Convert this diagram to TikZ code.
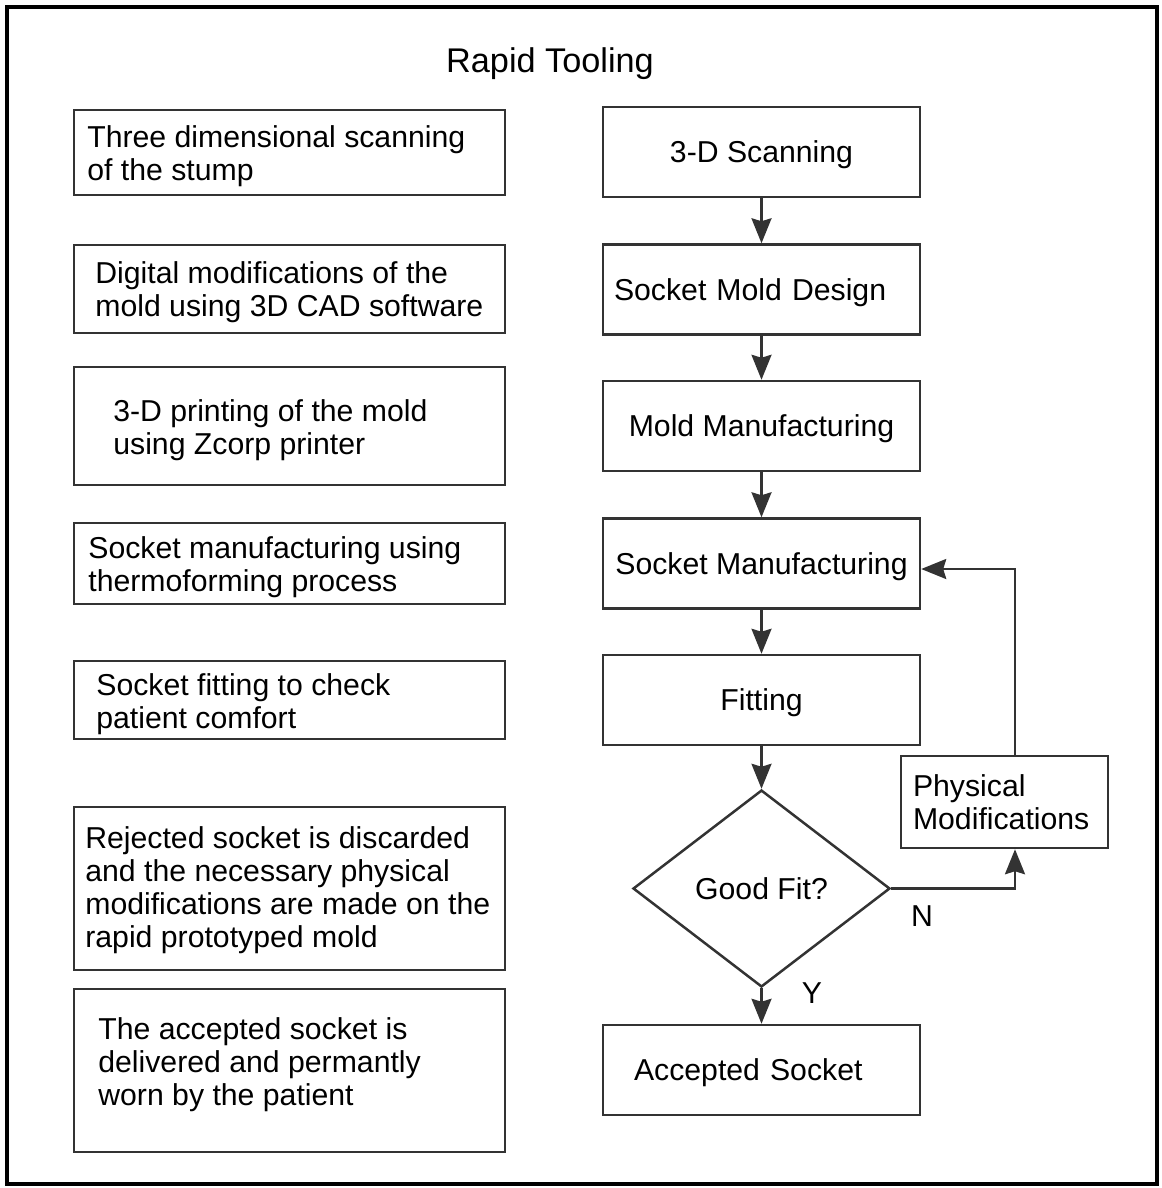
\documentclass[tikz,border=0pt]{standalone}
\usepackage{fontspec}
\setmainfont{Liberation Sans}
\usepackage{xcolor}
\usepackage{tikz}
\usetikzlibrary{arrows.meta, positioning, shapes.geometric}
\definecolor{linegray}{RGB}{51,51,51}

\begin{document}
\begin{tikzpicture}[x=0.02cm, y=-0.02cm, font=\fontsize{17.2}{18.8}\selectfont,
  stepbox/.style={draw=linegray, line width=0.05cm, minimum width=6.34cm, minimum height=1.8cm, inner sep=0pt, text depth=0pt},
  notebox/.style={draw=linegray, line width=0.05cm},
  notetext/.style={anchor=west, align=left, inner sep=0pt},
  flow/.style={draw=linegray, line width=0.05cm, -{Stealth[length=0.5cm, width=0.4cm, inset=0.06cm]}}]
  \useasboundingbox (0,0) rectangle (1162,1188);
  \draw[line width=0.08cm] (7,7) rectangle (1157,1184);
  \node[font=\fontsize{19.5}{21}\selectfont] (title) at (550,64) {Rapid Tooling};

  % left column: notes
  \draw[notebox] (74,110) rectangle (505,195);
  \node[notetext] (n1) at (87,156.5) {Three dimensional scanning\\of the stump};
  \draw[notebox] (74,245) rectangle (505,333);
  \node[notetext] (n2) at (95,292.5) {Digital modifications of the\\mold using 3D CAD software};
  \draw[notebox] (74,367) rectangle (505,485);
  \node[notetext] (n3) at (113,430.5) {3-D printing of the mold\\using Zcorp printer};
  \draw[notebox] (74,523) rectangle (505,604);
  \node[notetext] (n4) at (88,567.5) {Socket manufacturing using\\thermoforming process};
  \draw[notebox] (74,661) rectangle (505,739);
  \node[notetext] (n5) at (96,704.5) {Socket fitting to check\\patient comfort};
  \draw[notebox] (74,807) rectangle (505,970);
  \node[notetext] (n6) at (85,890)
    {Rejected socket is discarded\\and the necessary physical\\modifications are made on the\\rapid prototyped mold};
  \draw[notebox] (74,989) rectangle (505,1152);
  \node[notetext] (n7) at (98,1064.5) {The accepted socket is\\delivered and permantly\\worn by the patient};

  % right column: flow
  \node[stepbox] (scan) at (761.5,152) {3-D Scanning};
  \node[stepbox, text width=5.9cm, align=left, inner xsep=0.22cm] (design) at (761.5,289.5) {Socket Mold Design};
  \node[stepbox] (mold) at (761.5,426) {Mold Manufacturing};
  \node[stepbox] (socket) at (761.5,563.5) {Socket Manufacturing};
  \node[stepbox] (fitting) at (761.5,700) {Fitting};
  \node[diamond, draw=linegray, line width=0.05cm, minimum width=5.14cm, minimum height=3.94cm,
    inner sep=0pt] (good) at (761.5,888.5) {Good Fit?};
  \node[stepbox, text width=5.1cm, align=left, inner xsep=0.62cm] (accept) at (761.5,1070) {Accepted Socket};
  \node[draw=linegray, line width=0.05cm, minimum width=4.14cm, minimum height=1.84cm, align=left,
    inner xsep=0.24cm, inner ysep=0pt, text width=3.66cm] (phys) at (1004.5,802) {Physical\\Modifications};

  \draw[flow] (scan) -- (design);
  \draw[flow] (design) -- (mold);
  \draw[flow] (mold) -- (socket);
  \draw[flow] (socket) -- (fitting);
  \draw[flow] (fitting) -- (good);
  \draw[flow] (good) -- (accept);
  \draw[flow] (good.east) -| ([xshift=0.21cm]phys.south);
  \draw[flow] ([xshift=0.21cm]phys.north) |- ([yshift=-0.11cm]socket.east);
  \node (no) at (922,916) {N};
  \node (yes) at (812,993) {Y};
\end{tikzpicture}
\end{document}
